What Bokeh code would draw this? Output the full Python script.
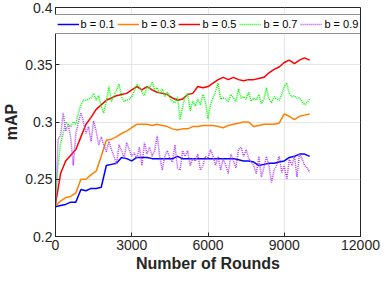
from bokeh.plotting import figure
from bokeh.models import FixedTicker, Legend, LegendItem, CustomJSTickFormatter
from bokeh.embed import file_html
from bokeh.resources import INLINE

rounds_coarse = list(range(0, 10001, 200))
rounds_fine = list(range(0, 10001, 100))

b01 = [0.226, 0.227, 0.228, 0.230, 0.230, 0.241, 0.240, 0.242, 0.242, 0.243,
       0.262, 0.263, 0.264, 0.269, 0.268, 0.266, 0.269, 0.269, 0.269, 0.268,
       0.268, 0.268, 0.268, 0.268, 0.270, 0.268, 0.268, 0.268, 0.268, 0.268,
       0.268, 0.268, 0.268, 0.268, 0.268, 0.268, 0.267, 0.266, 0.266, 0.265,
       0.262, 0.263, 0.264, 0.264, 0.265, 0.266, 0.269, 0.270, 0.272, 0.272, 0.270]

b03 = [0.227, 0.231, 0.234, 0.235, 0.238, 0.250, 0.250, 0.254, 0.257, 0.270,
       0.284, 0.285, 0.287, 0.290, 0.292, 0.295, 0.298, 0.298, 0.298, 0.297,
       0.298, 0.297, 0.296, 0.294, 0.293, 0.294, 0.294, 0.296, 0.296, 0.297,
       0.297, 0.297, 0.296, 0.295, 0.297, 0.298, 0.299, 0.300, 0.300, 0.296,
       0.297, 0.298, 0.298, 0.298, 0.299, 0.307, 0.305, 0.302, 0.305, 0.306, 0.307]

b05 = [0.228, 0.255, 0.266, 0.271, 0.276, 0.287, 0.298, 0.304, 0.311, 0.315,
       0.319, 0.321, 0.323, 0.324, 0.325, 0.328, 0.331, 0.328, 0.331, 0.328,
       0.326, 0.325, 0.324, 0.321, 0.319, 0.320, 0.324, 0.325, 0.331, 0.330,
       0.331, 0.334, 0.337, 0.339, 0.337, 0.339, 0.337, 0.336, 0.337, 0.337,
       0.338, 0.339, 0.343, 0.346, 0.348, 0.352, 0.354, 0.351, 0.354, 0.356, 0.354]

b07 = [0.228, 0.262, 0.282, 0.290, 0.300, 0.298, 0.296, 0.300, 0.298, 0.308,
       0.315, 0.319, 0.319, 0.320, 0.321, 0.325, 0.319, 0.323, 0.313, 0.308,
       0.318, 0.331, 0.318, 0.322, 0.328, 0.333, 0.322, 0.318, 0.319, 0.320,
       0.322, 0.327, 0.333, 0.331, 0.326, 0.323, 0.331, 0.329, 0.335, 0.328,
       0.330, 0.325, 0.329, 0.322, 0.326, 0.321, 0.318, 0.317, 0.322, 0.302,
       0.313, 0.322, 0.325, 0.310, 0.318, 0.314, 0.320, 0.315, 0.324, 0.318,
       0.303, 0.315, 0.321, 0.327, 0.334, 0.320, 0.321, 0.320, 0.318, 0.324,
       0.321, 0.318, 0.329, 0.321, 0.322, 0.320, 0.326, 0.318, 0.321, 0.319,
       0.324, 0.316, 0.320, 0.330, 0.320, 0.317, 0.322, 0.320, 0.319, 0.324,
       0.331, 0.334, 0.325, 0.322, 0.323, 0.321, 0.321, 0.318, 0.315, 0.317, 0.320]

b09 = [0.228, 0.285, 0.288, 0.308, 0.292, 0.298, 0.286, 0.262, 0.290, 0.300,
       0.308, 0.300, 0.290, 0.296, 0.283, 0.301, 0.292, 0.280, 0.287, 0.280,
       0.274, 0.283, 0.276, 0.270, 0.263, 0.280, 0.275, 0.268, 0.282, 0.276,
       0.270, 0.273, 0.268, 0.278, 0.262, 0.282, 0.272, 0.278, 0.270, 0.275,
       0.288, 0.270, 0.258, 0.270, 0.275, 0.268, 0.265, 0.280, 0.260, 0.258,
       0.275, 0.270, 0.275, 0.262, 0.268, 0.266, 0.272, 0.258, 0.262, 0.270,
       0.268, 0.276, 0.270, 0.262, 0.270, 0.258, 0.268, 0.262, 0.255, 0.272,
       0.266, 0.260, 0.276, 0.278, 0.270, 0.276, 0.268, 0.265, 0.262, 0.255,
       0.270, 0.252, 0.260, 0.270, 0.262, 0.247, 0.258, 0.262, 0.270, 0.256,
       0.262, 0.250, 0.268, 0.262, 0.270, 0.252, 0.272, 0.268, 0.262, 0.260, 0.256]

labels = ["b = 0.1", "b = 0.3", "b = 0.5", "b = 0.7", "b = 0.9"]
x_ticks = [0, 3000, 6000, 9000, 12000]
y_ticks = [0.2, 0.25, 0.3, 0.35, 0.4]

FONT = "Liberation Sans"

p = figure(width=380, height=275, output_backend="svg", toolbar_location=None,
           x_range=(0, 12000), y_range=(0.2, 0.4),
           min_border_left=48, min_border_right=20, min_border_top=7, min_border_bottom=39)
p.background_fill_color = "white"
p.outline_line_color = "#262626"
p.outline_line_width = 1

r1 = p.line(rounds_coarse, b01, line_color="#0000ff", line_width=1.5)
r2 = p.line(rounds_coarse, b03, line_color="#ff8000", line_width=1.5)
r3 = p.line(rounds_coarse, b05, line_color="#ff0000", line_width=1.5)
r4 = p.line(rounds_fine, b07, line_color="#00ff00", line_width=1.5, line_dash="1 1")
r5 = p.line(rounds_fine, b09, line_color="#b340ff", line_width=1.5, line_dash="1 1")

p.xaxis.ticker = FixedTicker(ticks=x_ticks)
p.yaxis.ticker = FixedTicker(ticks=y_ticks)
p.yaxis.formatter = CustomJSTickFormatter(code="return Number(tick.toFixed(2)).toString();")

for ax in (p.xaxis[0], p.yaxis[0]):
    ax.major_label_text_font = FONT
    ax.major_label_text_font_size = "14px"
    ax.major_label_text_color = "#262626"
    ax.axis_label_text_font = FONT
    ax.axis_label_text_font_size = "16px"
    ax.axis_label_text_font_style = "bold"
    ax.axis_label_text_color = "#262626"
    ax.axis_line_color = "#262626"
    ax.major_tick_line_color = "#262626"
    ax.major_tick_in = 4
    ax.major_tick_out = 0
    ax.minor_tick_line_color = None
    ax.major_label_standoff = 3
    ax.axis_label_standoff = 2

p.xaxis.axis_label = "Number of Rounds"
p.yaxis.axis_label = "mAP"

p.xgrid.grid_line_color = "#e6e6e6"
p.ygrid.grid_line_color = "#e6e6e6"

legend = Legend(items=[LegendItem(label=l, renderers=[r]) for l, r in zip(labels, [r1, r2, r3, r4, r5])],
                orientation="horizontal", location="top_center")
legend.label_text_font = FONT
legend.label_text_font_size = "11px"
legend.label_text_color = "#000000"
legend.glyph_width = 22
legend.glyph_height = 10
legend.label_standoff = 2
legend.spacing = 3
legend.padding = 3
legend.margin = 7
legend.border_line_color = "#262626"
legend.border_line_width = 1
legend.background_fill_alpha = 1.0
legend.label_height = 10
p.add_layout(legend)

open("out.html", "w").write(file_html(p, INLINE))
